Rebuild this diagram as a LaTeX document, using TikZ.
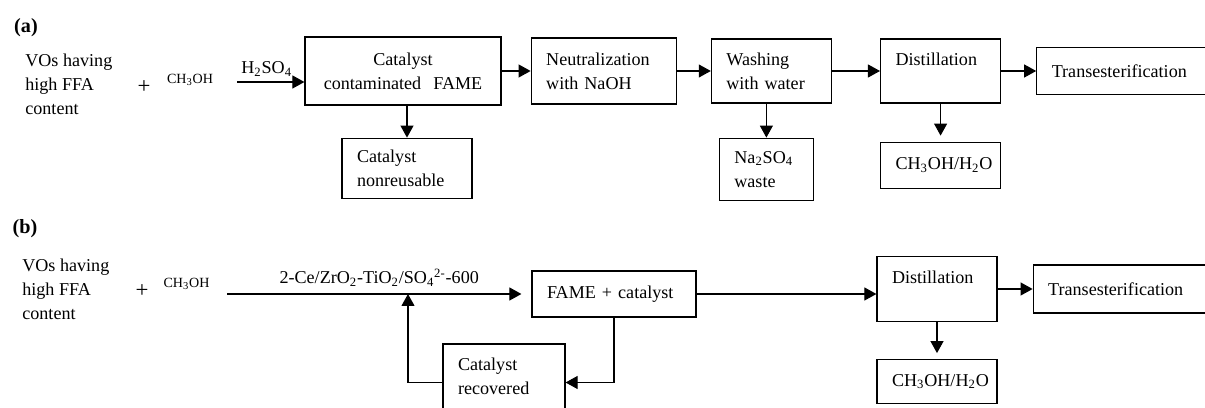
\documentclass[tikz,border=0pt]{standalone}
\usepackage{fontspec}
\setmainfont{Liberation Serif}
\usepackage{tikz}
\usetikzlibrary{positioning,arrows.meta}

\begin{document}
\begin{tikzpicture}[x=0.02cm,y=-0.02cm,
    box/.style={draw,line width=0.7pt,inner xsep=0.3cm,inner ysep=0pt,align=left,font=\fontsize{10.3pt}{13.6pt}\selectfont},
    txt/.style={inner sep=0pt,align=left,font=\fontsize{10.3pt}{13.6pt}\selectfont},
    small/.style={inner sep=0pt,font=\fontsize{8pt}{9.6pt}\selectfont},
    plus/.style={inner sep=0pt,font=\fontsize{13pt}{14pt}\selectfont},
    tag/.style={inner sep=0pt,font=\bfseries\fontsize{11.5pt}{13pt}\selectfont},
    arr/.style={-{Triangle[length=0.24cm,width=0.26cm]},line width=0.6pt}]
  \useasboundingbox (0,0) rectangle (1205,408);

  %(a)
  \node[tag] (la) at (26,28) {(a)};
  \node[txt,anchor=west] (voA) at (25,84) {VOs having\\high FFA\\content};
  \node[plus] (plA) at (144,87) {+};
  \node[small] (meA) at (190,80) {CH\textsubscript{3}OH};
  \coordinate (inA) at (237,82);
  \node[box,align=center,text width=3.32cm,minimum height=1.36cm] (cat) at (403,71) {Catalyst\\contaminated\ \ FAME};
  \node[box,text width=2.3cm,minimum height=1.32cm,right=0.58cm of cat] (neut) {Neutralization\\with NaOH};
  \node[box,text width=1.8cm,minimum height=1.28cm,right=0.68cm of neut] (wash) {Washing\\with water};
  \node[box,text width=1.8cm,minimum height=1.28cm,right=0.96cm of wash] (distA) {Distillation\\~};
  \node[box,text width=2.84cm,minimum height=0.94cm,right=0.70cm of distA] (transA) {Transesterification};
  \node[box,text width=2.0cm,minimum height=1.2cm,below=0.64cm of cat,xshift=0.08cm] (nonre) {Catalyst\\nonreusable};
  \node[box,text width=1.28cm,minimum height=1.24cm,below=0.68cm of wash,xshift=-0.1cm] (naso) {Na\textsubscript{2}SO\textsubscript{4}\\waste};
  \node[box,text width=1.8cm,minimum height=0.92cm,below=0.76cm of distA] (watA) {CH\textsubscript{3}OH/H\textsubscript{2}O};

  %a>
  \draw[arr] (inA) -- node[txt,above=3pt,xshift=-0.08cm] {H\textsubscript{2}SO\textsubscript{4}} (inA -| cat.west);
  \draw[arr] (cat) -- (neut);
  \draw[arr] (neut) -- (wash);
  \draw[arr] (wash) -- (distA);
  \draw[arr] (distA) -- (transA);
  \draw[arr] (nonre.north |- cat.south) -- (nonre.north);
  \draw[arr] (naso.north |- wash.south) -- (naso.north);
  \draw[arr,shorten >=0.12cm] (distA) -- (watA);

  %(b)
  \node[tag] (lb) at (25,229) {(b)};
  \node[txt,anchor=west] (voB) at (22,289) {VOs having\\high FFA\\content};
  \node[plus] (plB) at (142,291) {+};
  \node[small] (meB) at (186.5,284) {CH\textsubscript{3}OH};
  \coordinate (inB) at (227,294);
  \coordinate (tapB) at (408,294);
  \node[box,text width=2.68cm,minimum height=0.92cm] (fame) at (614,294) {FAME + catalyst};
  \node[box,text width=1.8cm,minimum height=1.3cm] (distB) at (937,289) {Distillation\\~};
  \node[box,text width=2.84cm,minimum height=0.96cm,right=0.70cm of distB] (transB) {Transesterification};
  \node[box,text width=1.8cm,minimum height=0.88cm,below=0.74cm of distB] (watB) {CH\textsubscript{3}OH/H\textsubscript{2}O};
  \node[box,text width=1.84cm,minimum height=1.3cm] (recov) at (504,376.5) {Catalyst\\recovered};

  %b>
  \draw[arr,shorten >=0.2cm] (inB) -- node[txt,above=4pt] {2-Ce/ZrO\textsubscript{2}-TiO\textsubscript{2}/SO\textsubscript{4}\textsuperscript{2-}-600} (fame.west);
  \draw[arr] (fame.east) -- (fame.east -| distB.west);
  \draw[arr] (distB) -- (transB);
  \draw[arr,shorten >=0.12cm] (distB) -- (watB);
  \draw[arr] (fame.south) |- ([yshift=-0.12cm]recov.east);
  \draw[arr] ([yshift=-0.12cm]recov.west) -| (tapB);
\end{tikzpicture}
\end{document}
